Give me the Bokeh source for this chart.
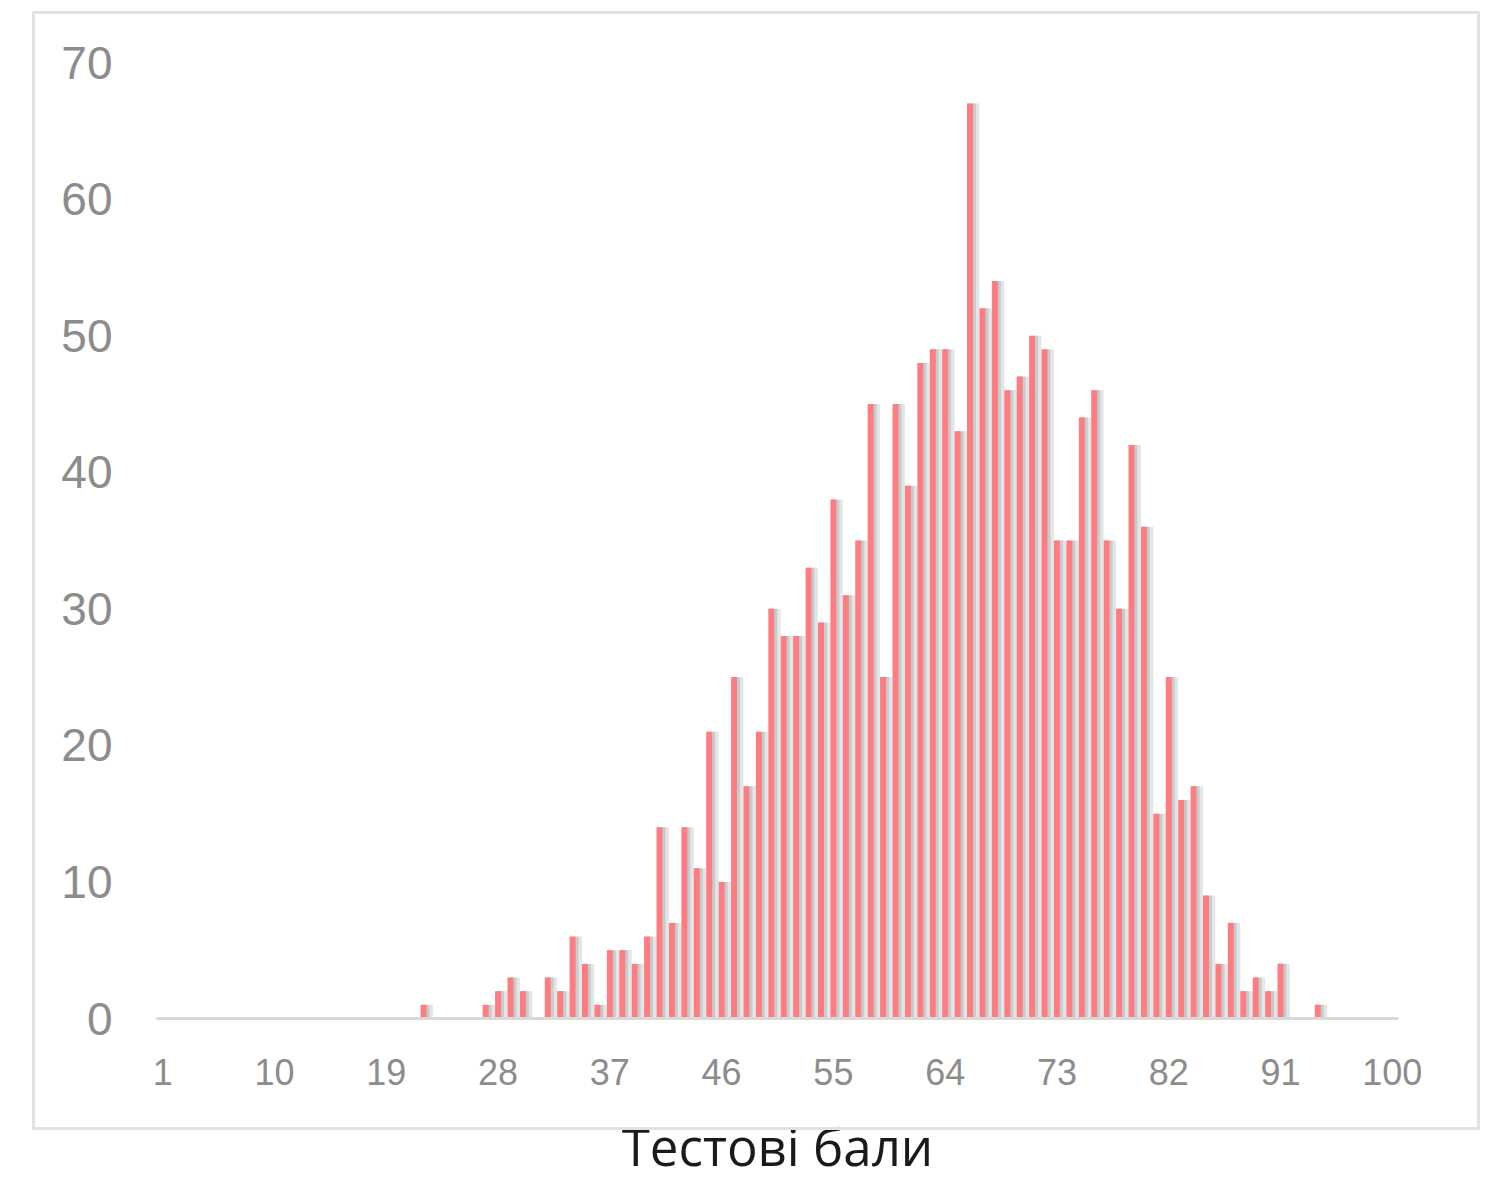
from bokeh.plotting import figure
from bokeh.models import ColumnDataSource, FixedTicker, Range1d, InlineStyleSheet
from bokeh.embed import file_html
from bokeh.resources import INLINE

# ---- data ----
scores = list(range(1, 101))
counts = [
    0, 0, 0, 0, 0, 0, 0, 0, 0, 0,      # 1-10
    0, 0, 0, 0, 0, 0, 0, 0, 0, 0,      # 11-20
    0, 1, 0, 0, 0, 0, 1, 2, 3, 2,      # 21-30
    0, 3, 2, 6, 4, 1, 5, 5, 4, 6,      # 31-40
    14, 7, 14, 11, 21, 10, 25, 17, 21, 30,   # 41-50
    28, 28, 33, 29, 38, 31, 35, 45, 25, 45,  # 51-60
    39, 48, 49, 49, 43, 67, 52, 54, 46, 47,  # 61-70
    50, 49, 35, 35, 44, 46, 35, 30, 42, 36,  # 71-80
    15, 25, 16, 17, 9, 4, 7, 2, 3, 2,        # 81-90
    4, 0, 0, 1, 0, 0, 0, 0, 0, 0,            # 91-100
]
x_ticks = [1, 10, 19, 28, 37, 46, 55, 64, 73, 82, 91, 100]
y_ticks = [0, 10, 20, 30, 40, 50, 60, 70]
x_title = "Тестові бали"

src = ColumnDataSource(dict(score=scores, count=counts,
                            sh1=[s + 0.28 for s in scores],
                            sh2=[s + 0.18 for s in scores]))

border_css = InlineStyleSheet(css="""
:host::after {
  content: '';
  position: absolute;
  left: 32px; top: 11px;
  width: 1448px; height: 1119px;
  border: 3px solid #e2e2e2;
  box-sizing: border-box;
  pointer-events: none;
  z-index: 10;
}
""")

p = figure(width=1491, height=1185,
           x_range=Range1d(0.5, 100.5), y_range=Range1d(0, 70),
           output_backend="svg", toolbar_location=None,
           min_border_left=156, min_border_right=93,
           min_border_top=62, min_border_bottom=167)
p.stylesheets = [border_css]
p.background_fill_color = "white"
p.border_fill_color = "white"
p.outline_line_color = None
p.xgrid.visible = False
p.ygrid.visible = False

# soft shadow behind bars
p.vbar(x="sh1", top="count", width=0.95, bottom=0, source=src,
       fill_color="#6f8282", fill_alpha=0.2, line_color=None)
p.vbar(x="sh2", top="count", width=0.6, bottom=0, source=src,
       fill_color="#6f8282", fill_alpha=0.26, line_color=None)
# bars
p.vbar(x="score", top="count", width=0.48, bottom=0, source=src,
       fill_color="#ff7c80", line_color=None)

# y axis
ya = p.yaxis[0]
ya.ticker = FixedTicker(ticks=y_ticks)
ya.axis_line_color = None
ya.major_tick_line_color = None
ya.minor_tick_line_color = None
ya.major_label_text_font = "Liberation Sans"
ya.major_label_text_font_size = "46px"
ya.major_label_text_color = "#8c8c8c"
ya.major_label_standoff = 38

# x axis
xa = p.xaxis[0]
xa.ticker = FixedTicker(ticks=x_ticks)
xa.axis_line_color = "#d9d9d9"
xa.axis_line_width = 3
xa.major_tick_line_color = None
xa.minor_tick_line_color = None
xa.major_label_text_font = "Liberation Sans"
xa.major_label_text_font_size = "36px"
xa.major_label_text_color = "#8c8c8c"
xa.major_label_standoff = 34
xa.axis_label = x_title
xa.axis_label_text_font = "Open Sans"
xa.axis_label_text_font_style = "normal"
xa.axis_label_text_font_size = "51px"
xa.axis_label_text_color = "#1a1a1a"
xa.axis_label_standoff = 23

open("out.html", "w").write(file_html(p, INLINE))
